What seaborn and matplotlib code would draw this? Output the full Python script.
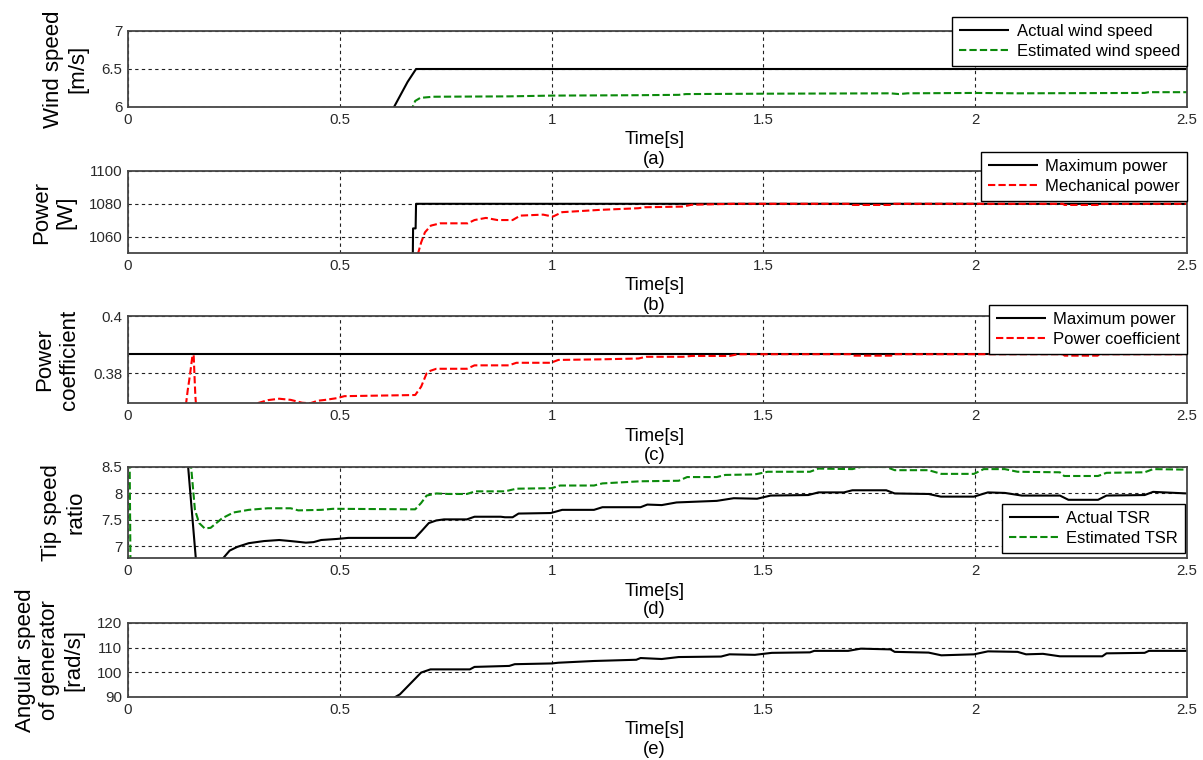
import numpy as np
import pandas as pd
import matplotlib
matplotlib.use("Agg")
import matplotlib.pyplot as plt
import seaborn as sns

# ------------------------------------------------------------------ data
x_ticks = [0, 0.5, 1, 1.5, 2, 2.5]
x_tick_labels = ["0", "0.5", "1", "1.5", "2", "2.5"]

# (a) wind speed
t_ws_act = [0.0, 0.600, 0.628, 0.660, 0.680, 2.500]
ws_act = [5.73, 5.73, 6.00, 6.33, 6.50, 6.50]
t_ws_est = [0.0, 0.665, 0.672, 0.678, 0.690, 0.720, 0.900, 1.000, 1.200, 1.300,
            1.317, 1.500, 1.800, 1.820, 1.840, 2.000, 2.100, 2.400, 2.410, 2.500]
ws_est = [5.80, 5.80, 6.00, 6.08, 6.12, 6.135, 6.14, 6.15, 6.155, 6.16,
          6.17, 6.175, 6.18, 6.17, 6.18, 6.185, 6.18, 6.185, 6.195, 6.195]

# (b) power
t_pmax = [0.0, 0.672, 0.673, 0.679, 0.680, 2.500]
p_max = [1040, 1040, 1065, 1065, 1080, 1080]
t_pmech = [0.684, 0.692, 0.701, 0.715, 0.737, 0.802, 0.818, 0.845, 0.872, 0.908,
           0.926, 0.980, 1.003, 1.025, 1.114, 1.205, 1.220, 1.310, 1.330, 1.430,
           1.706, 1.710, 1.802, 1.806, 2.207, 2.211, 2.289, 2.293, 2.500]
p_mech = [1049, 1056.4, 1062.6, 1066.7, 1068.1, 1068.1, 1070.1, 1071.4, 1070.1, 1070.1,
          1072.8, 1073.4, 1072.2, 1074.9, 1076.3, 1077.3, 1077.9, 1078.3, 1079.4, 1080.0,
          1080.0, 1079.3, 1079.3, 1080.0, 1080.0, 1079.3, 1079.3, 1080.0, 1080.0]

# (c) power coefficient
t_cpmax = [0.0, 2.5]
cp_max = [0.3867, 0.3867]
t_cp = [0.0, 0.130, 0.136, 0.141, 0.146, 0.152, 0.155, 0.157, 0.159, 0.163,
        0.250, 0.305, 0.330, 0.357, 0.384, 0.411, 0.430, 0.448, 0.466, 0.493,
        0.511, 0.678, 0.692, 0.705, 0.714, 0.728, 0.800, 0.818, 0.899, 0.917,
        0.998, 1.016, 1.114, 1.205, 1.223, 1.310, 1.331, 1.420, 1.440, 1.706,
        1.710, 1.802, 1.806, 2.207, 2.211, 2.289, 2.293, 2.500]
cp = [0.34, 0.36, 0.368, 0.374, 0.379, 0.3860, 0.3864, 0.379, 0.372, 0.364,
      0.355, 0.3694, 0.3705, 0.3710, 0.3706, 0.3696, 0.3694, 0.3703, 0.3706, 0.3712,
      0.3719, 0.3723, 0.3752, 0.3799, 0.3808, 0.3815, 0.3815, 0.3827, 0.3827, 0.3836,
      0.3836, 0.3846, 0.3848, 0.3851, 0.3857, 0.3857, 0.3860, 0.3860, 0.3866, 0.3866,
      0.3861, 0.3861, 0.3866, 0.3866, 0.3861, 0.3861, 0.3866, 0.3866]

# (d) tip speed ratio
t_tsr_act = [0.0, 0.135, 0.142, 0.160, 0.190, 0.225, 0.240, 0.258, 0.285, 0.321,
             0.357, 0.384, 0.420, 0.438, 0.456, 0.493, 0.520, 0.678, 0.692, 0.710,
             0.728, 0.746, 0.800, 0.818, 0.880, 0.890, 0.908, 0.922, 0.998, 1.025,
             1.100, 1.120, 1.210, 1.226, 1.260, 1.295, 1.390, 1.430, 1.485, 1.517,
             1.606, 1.630, 1.690, 1.710, 1.790, 1.810, 1.890, 1.919, 1.997, 2.030,
             2.070, 2.110, 2.200, 2.220, 2.290, 2.310, 2.400, 2.420, 2.500]
tsr_act = [9.5, 8.9, 8.5, 6.78, 6.3, 6.78, 6.92, 6.99, 7.06, 7.10,
           7.12, 7.10, 7.07, 7.08, 7.12, 7.14, 7.16, 7.16, 7.28, 7.44,
           7.49, 7.51, 7.51, 7.56, 7.56, 7.55, 7.55, 7.62, 7.63, 7.69,
           7.69, 7.74, 7.74, 7.79, 7.78, 7.83, 7.86, 7.91, 7.90, 7.96,
           7.97, 8.02, 8.02, 8.06, 8.06, 8.00, 7.99, 7.94, 7.94, 8.02,
           8.01, 7.96, 7.96, 7.88, 7.88, 7.96, 7.97, 8.03, 8.00]
t_tsr_est_a = [0.0, 0.004, 0.006]
tsr_est_a = [9.0, 8.5, 6.5]
t_tsr_est_b = [0.147, 0.149, 0.158, 0.168, 0.181, 0.195, 0.222, 0.249, 0.285, 0.330,
               0.384, 0.402, 0.456, 0.484, 0.678, 0.692, 0.705, 0.728, 0.757, 0.800,
               0.820, 0.890, 0.917, 1.000, 1.020, 1.100, 1.120, 1.210, 1.300, 1.320,
               1.390, 1.410, 1.480, 1.510, 1.610, 1.630, 1.710, 1.730, 1.790, 1.810,
               1.890, 1.920, 1.997, 2.020, 2.070, 2.100, 2.200, 2.210, 2.290, 2.310,
               2.400, 2.420, 2.500]
tsr_est_b = [9.0, 8.5, 7.69, 7.44, 7.34, 7.35, 7.53, 7.64, 7.69, 7.72,
             7.72, 7.68, 7.69, 7.71, 7.70, 7.82, 7.96, 8.00, 7.99, 7.99,
             8.04, 8.04, 8.09, 8.10, 8.15, 8.15, 8.19, 8.23, 8.24, 8.31,
             8.31, 8.35, 8.36, 8.41, 8.41, 8.47, 8.46, 8.50, 8.50, 8.44,
             8.44, 8.37, 8.37, 8.46, 8.46, 8.41, 8.40, 8.33, 8.33, 8.39,
             8.40, 8.46, 8.45]

# (e) angular speed of generator
t_omega = [0.0, 0.600, 0.631, 0.642, 0.692, 0.714, 0.807, 0.818, 0.900, 0.913,
           1.000, 1.016, 1.100, 1.200, 1.210, 1.260, 1.300, 1.400, 1.420, 1.480,
           1.520, 1.610, 1.620, 1.700, 1.730, 1.800, 1.810, 1.890, 1.920, 1.997,
           2.030, 2.100, 2.120, 2.160, 2.200, 2.300, 2.310, 2.400, 2.410, 2.500]
omega = [85, 85, 90, 91.1, 99.9, 101.2, 101.2, 102.2, 102.6, 103.3,
         103.6, 103.9, 104.6, 105.1, 105.8, 105.4, 106.2, 106.4, 107.3, 107.1,
         107.9, 108.1, 108.7, 108.7, 109.6, 109.3, 108.3, 108.0, 106.9, 107.3,
         108.5, 108.3, 107.3, 107.5, 106.5, 106.5, 107.7, 107.9, 108.7, 108.7]

y_labels = ["Wind speed\n[m/s]", "Power\n[W]", "Power\ncoefficient",
            "Tip speed\nratio", "Angular speed\nof generator\n[rad/s]"]
sub_labels = ["(a)", "(b)", "(c)", "(d)", "(e)"]
y_limits = [(6, 7), (1050, 1100), (0.3695, 0.4), (6.78, 8.5), (90, 120)]
y_ticks = [[6, 6.5, 7], [1060, 1080, 1100], [0.38, 0.4], [7, 7.5, 8, 8.5], [90, 100, 110, 120]]
y_tick_labels = [["6", "6.5", "7"], ["1060", "1080", "1100"], ["0.38", "0.4"],
                 ["7", "7.5", "8", "8.5"], ["90", "100", "110", "120"]]

# ------------------------------------------------------------------ style
sns.set_theme(style="white")
plt.rcParams["font.family"] = ["Liberation Sans", "DejaVu Sans"]
plt.rcParams["lines.solid_capstyle"] = "butt"

W, H = 1203, 760
fig = plt.figure(figsize=(W / 100, H / 100), dpi=100)
fig.patch.set_facecolor("white")

X0, X1 = 128, 1187
panel_px = [(31, 107), (171, 253), (316, 403), (467, 558), (623, 697)]
ylabel_x_px = [66, 54, 57, 64, 50]

GREEN = "#0b8a0b"
RED = "#ff0000"
DASH = (0, (3.5, 1.5))
LW = 1.5

axes = []
for (top, bot) in panel_px:
    ax = fig.add_axes([X0 / W, 1 - bot / H, (X1 - X0) / W, (bot - top) / H])
    axes.append(ax)

def line(ax, t, v, color, dashed=False, label=None):
    kw = dict(x=np.asarray(t), y=np.asarray(v), ax=ax, color=color, linewidth=LW,
              estimator=None, sort=False, legend=False)
    if dashed:
        kw["linestyle"] = DASH
    if label is not None:
        kw["label"] = label
    sns.lineplot(**kw)

# (a)
line(axes[0], t_ws_act, ws_act, "black", label="Actual wind speed")
line(axes[0], t_ws_est, ws_est, GREEN, dashed=True, label="Estimated wind speed")
# (b)
line(axes[1], t_pmax, p_max, "black", label="Maximum power")
line(axes[1], t_pmech, p_mech, RED, dashed=True, label="Mechanical power")
# (c)
line(axes[2], t_cpmax, cp_max, "black", label="Maximum power")
line(axes[2], t_cp, cp, RED, dashed=True, label="Power coefficient")
# (d)
line(axes[3], t_tsr_act, tsr_act, "black", label="Actual TSR")
line(axes[3], t_tsr_est_b, tsr_est_b, GREEN, dashed=True, label="Estimated TSR")
line(axes[3], t_tsr_est_a, tsr_est_a, GREEN, dashed=True)
# (e)
line(axes[4], t_omega, omega, "black")

legend_anchor = [("upper right", (1187, 17)), ("upper right", (1187, 152)),
                 ("upper right", (1187, 305)), ("lower right", (1185, 553)), None]

for i, ax in enumerate(axes):
    top, bot = panel_px[i]
    h = bot - top
    ax.set_xlim(0, 2.5)
    ax.set_ylim(*y_limits[i])
    ax.set_xticks(x_ticks)
    ax.set_xticklabels(x_tick_labels)
    ax.set_yticks(y_ticks[i])
    ax.set_yticklabels(y_tick_labels[i])
    ax.grid(True, color="#202020", linestyle=(0, (3, 3)), linewidth=0.8)
    ax.set_axisbelow(True)
    for s in ax.spines.values():
        s.set_visible(True)
        s.set_color("#454545")
        s.set_linewidth(1.3)
    ax.tick_params(length=0, pad=4, labelsize=10.8, colors="#2a2a2a")
    ax.set_facecolor("white")

    ax.set_xlabel("Time[s]", fontsize=13.3, color="black")
    ax.xaxis.set_label_coords(0.497, -33 / h)
    ax.xaxis.label.set_verticalalignment("center")
    ax.text(0.497, -52 / h, sub_labels[i], transform=ax.transAxes,
            ha="center", va="center", fontsize=13.3, color="black")

    ax.set_ylabel(y_labels[i], fontsize=16, color="black", linespacing=1.2)
    ax.yaxis.set_label_coords((ylabel_x_px[i] - X0) / (X1 - X0), 0.5)
    ax.yaxis.label.set_verticalalignment("center")

    if legend_anchor[i] is not None:
        loc, (px, py) = legend_anchor[i]
        handles, labels = ax.get_legend_handles_labels()
        leg = ax.legend(handles, labels, loc=loc,
                        bbox_to_anchor=(px / W, 1 - py / H),
                        bbox_transform=fig.transFigure,
                        frameon=True, fancybox=False, framealpha=1,
                        edgecolor="black", facecolor="white",
                        fontsize=12, handlelength=3.0, handletextpad=0.45,
                        borderpad=0.42, labelspacing=0.3, borderaxespad=0)
        leg.get_frame().set_linewidth(1.0)
        for t in leg.get_texts():
            t.set_color("black")

fig.savefig("out.png", dpi=100, facecolor="white")
